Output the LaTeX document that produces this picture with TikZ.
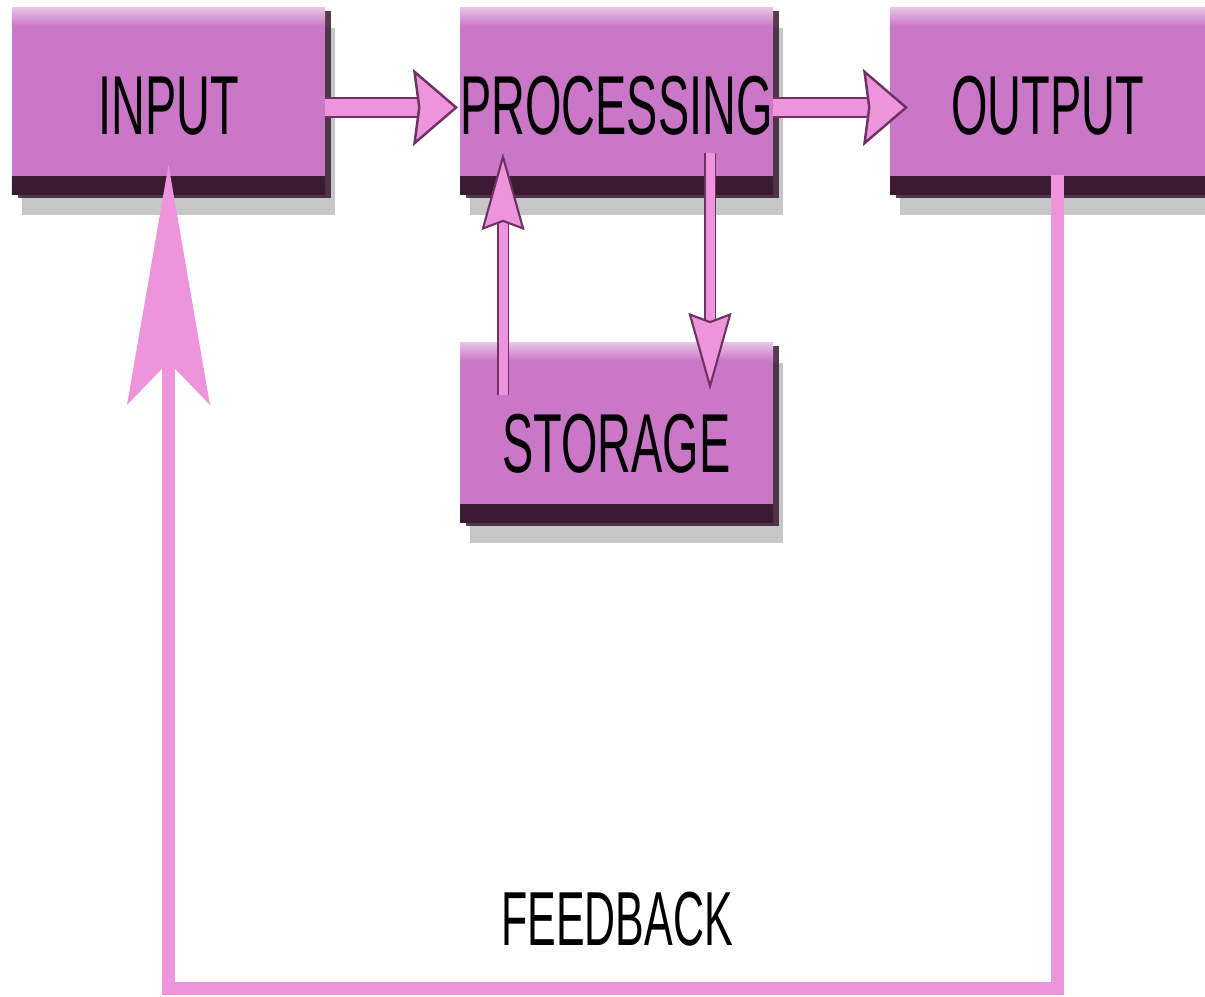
\documentclass[tikz,border=0pt]{standalone}
\usepackage{fontspec}
\newfontfamily\diagfont[FakeStretch=0.56]{Liberation Sans}
\usetikzlibrary{arrows.meta,positioning,shadows}
\definecolor{boxpink}{RGB}{201,119,198}
\definecolor{boxdark}{RGB}{58,26,48}
\definecolor{arrowpink}{RGB}{238,148,220}
\definecolor{arrowedge}{RGB}{110,50,100}
\tikzset{
    sysbox/.style={rectangle, fill=boxpink, minimum width=3.13cm, minimum height=1.87cm, inner sep=0pt, outer sep=0pt,
        text height=0.67cm, text depth=0pt,
        font=\diagfont\fontsize{23.8}{26}\selectfont,
        drop shadow={shadow xshift=0.1cm, shadow yshift=-0.2cm, fill=black, opacity=0.22},
        drop shadow={shadow xshift=0.06cm, shadow yshift=-0.03cm, fill=boxdark, opacity=0.85},
        path picture={
            \shade[top color=boxdark!75!boxpink, bottom color=boxdark] (path picture bounding box.south west) rectangle ([yshift=0.18cm]path picture bounding box.south east);
            \shade[top color=boxpink!45!white, bottom color=boxpink] (path picture bounding box.north west) rectangle ([yshift=-0.18cm]path picture bounding box.north east);
        }},
    flowarrow/.style={draw=arrowpink, line width=0.17cm, preaction={draw=arrowedge, line width=0.21cm, -, shorten >=0.25cm},
        -{Stealth[length=0.45cm, width=0.77cm, inset=0.05cm, fill=arrowpink, color=arrowedge, line width=0.7pt]}},
    linkarrow/.style={draw=arrowpink, line width=0.09cm, preaction={draw=arrowedge, line width=0.12cm, -, shorten >=0.4cm},
        -{Stealth[length=0.77cm, width=0.43cm, inset=0.08cm, fill=arrowpink, color=arrowedge, line width=0.6pt]}},
    feedarrow/.style={draw=arrowpink, line width=0.13cm,
        -{Stealth[length=2.4cm, width=0.83cm, inset=0.43cm, fill=arrowpink, color=arrowpink, line width=0pt]}},
    feedlabel/.style={font=\diagfont\fontsize{21.8}{24}\selectfont, inner sep=0pt}
}
\begin{document}
\begin{tikzpicture}
    \useasboundingbox (0,0) rectangle (12.05,-9.97);

    \node[sysbox] (input) at (1.685,-1.015) {INPUT};
    \node[sysbox, right=1.35cm of input] (processing) {PROCESSING};
    \node[sysbox, right=1.17cm of processing, minimum width=3.15cm] (output) {OUTPUT};
    \node[sysbox, below=1.48cm of processing, minimum height=1.80cm, text height=0.8cm] (storage) {STORAGE};
    \node[feedlabel] (feedback) at (6.17,-9.19) {FEEDBACK};

    \draw[flowarrow] ([yshift=-0.06cm]input.east) -- ([xshift=-0.02cm,yshift=-0.06cm]processing.west);
    \draw[flowarrow] ([yshift=-0.06cm]processing.east) -- ([xshift=0.18cm,yshift=-0.06cm]output.west);
    \draw[linkarrow] ([xshift=0.43cm,yshift=-0.52cm]storage.north west) -- ([xshift=0.43cm,yshift=0.42cm]processing.south west);
    \draw[linkarrow] ([xshift=2.5cm,yshift=0.42cm]processing.south west) -- ([xshift=2.5cm,yshift=-0.47cm]storage.north west);
    \draw[feedarrow] ([xshift=0.1cm,yshift=0.2cm]output.south) -- ++(0,-8.13) -| ([yshift=0.3cm]input.south);
\end{tikzpicture}
\end{document}
